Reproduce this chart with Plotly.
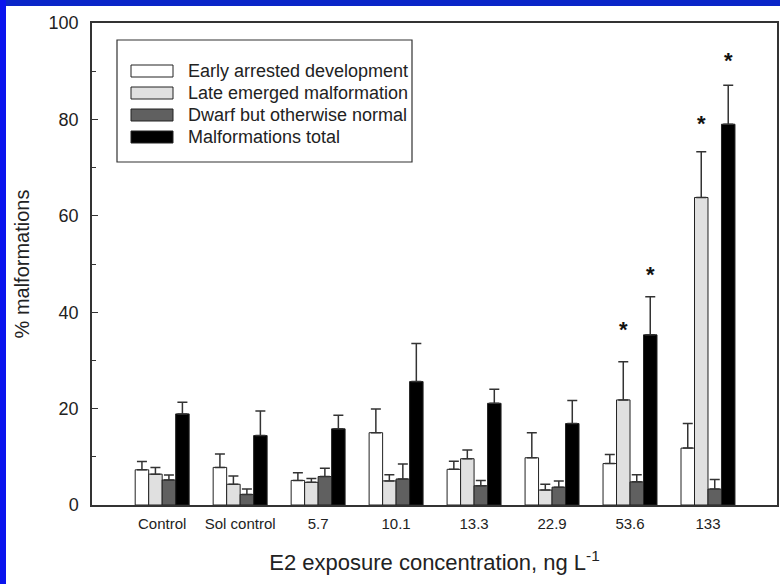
import plotly.graph_objects as go

# ---------------- data ----------------
categories = ["Control", "Sol control", "5.7", "10.1", "13.3", "22.9", "53.6", "133"]

early = [7.3, 7.8, 5.1, 15.0, 7.4, 9.8, 8.6, 11.8]
early_err = [1.7, 2.8, 1.6, 4.9, 1.7, 5.2, 1.9, 5.1]

late = [6.4, 4.3, 4.7, 5.0, 9.6, 3.1, 21.8, 63.8]
late_err = [1.4, 1.7, 0.8, 1.3, 1.8, 1.2, 7.9, 9.5]

dwarf = [5.2, 2.2, 5.9, 5.4, 4.0, 3.7, 4.8, 3.3]
dwarf_err = [1.0, 1.1, 1.7, 3.1, 1.1, 1.3, 1.5, 2.0]

total = [18.9, 14.4, 15.8, 25.6, 21.1, 16.9, 35.3, 79.0]
total_err = [2.4, 5.1, 2.8, 7.9, 2.9, 4.8, 7.9, 8.1]

series_names = ["Early arrested development", "Late emerged malformation",
                "Dwarf but otherwise normal", "Malformations total"]

# significance stars: category index, series index, y value
star_cat = [6, 6, 7, 7]
star_series = [1, 3, 1, 3]
star_y = [37.4, 48.9, 80.2, 93.3]

# ---------------- layout geometry ----------------
W, H = 780, 584
L, R, T, B = 92, 777, 23, 505
FONT = "Liberation Sans, Arial, sans-serif"
colors = ["#ffffff", "#e0e0e0", "#606060", "#000000"]
BARGAP = 0.308
nser = 4
bw = (1 - BARGAP) / nser


def px2x(px):
    return (px - L) / (R - L)


def py2y(py):
    return (B - py) / (B - T)


x_idx = list(range(len(categories)))
values = [early, late, dwarf, total]
errors = [early_err, late_err, dwarf_err, total_err]

fig = go.Figure()
for i in range(nser):
    fig.add_trace(go.Bar(
        x=x_idx, y=values[i], name=series_names[i],
        marker=dict(color=colors[i], line=dict(color="#222222", width=1)),
        error_y=dict(type="data", array=errors[i], arrayminus=[0] * len(categories),
                     symmetric=False, color="#333333", thickness=1.5, width=5),
        showlegend=False,
    ))

annotations = []
for c, s, yv in zip(star_cat, star_series, star_y):
    annotations.append(dict(
        x=c + (s - (nser - 1) / 2) * bw, y=yv, xref="x", yref="y",
        text="<b>*</b>", showarrow=False, yshift=-5,
        font=dict(family=FONT, size=22, color="#111111"),
    ))

shapes = []
# blue frame strips
shapes.append(dict(type="rect", xref="paper", yref="paper",
                   x0=px2x(0), x1=px2x(W), y0=py2y(6), y1=py2y(0),
                   fillcolor="#0a26c8", line=dict(width=0), layer="below"))
shapes.append(dict(type="rect", xref="paper", yref="paper",
                   x0=px2x(0), x1=px2x(6), y0=py2y(H), y1=py2y(0),
                   fillcolor="#0a14ee", line=dict(width=0), layer="below"))

# legend box
shapes.append(dict(type="rect", xref="paper", yref="paper",
                   x0=px2x(117), x1=px2x(412), y0=py2y(162), y1=py2y(40),
                   fillcolor="white", line=dict(color="#333333", width=1.2)))
centers = [71, 93, 115, 137]
for i in range(nser):
    cy = centers[i]
    shapes.append(dict(type="rect", xref="paper", yref="paper",
                       x0=px2x(131), x1=px2x(173), y0=py2y(cy + 6), y1=py2y(cy - 6),
                       fillcolor=colors[i], line=dict(color="#222222", width=1)))
    annotations.append(dict(x=px2x(186), y=py2y(cy), xref="paper", yref="paper",
                            text=series_names[i], showarrow=False,
                            xanchor="left", yanchor="middle",
                            font=dict(family=FONT, size=18, color="#222222")))

fig.update_layout(
    width=W, height=H,
    margin=dict(l=L, r=W - R, t=T, b=H - B, pad=0),
    paper_bgcolor="white", plot_bgcolor="white",
    barmode="group", bargap=BARGAP, bargroupgap=0,
    font=dict(family=FONT, color="#222222"),
    shapes=shapes, annotations=annotations,
    xaxis=dict(
        range=[-0.9, 7.885], tickmode="array", tickvals=x_idx, ticktext=categories,
        showline=True, linecolor="#333333", linewidth=1.5, mirror=True,
        ticks="", showgrid=False, zeroline=False,
        tickfont=dict(family=FONT, size=15, color="#222222"),
        ticklabelstandoff=4,
        title=dict(text="E2 exposure concentration, ng L<sup>-1</sup>",
                   font=dict(family=FONT, size=22, color="#222222"), standoff=24),
        automargin=False,
    ),
    yaxis=dict(
        range=[0, 100], tickmode="linear", tick0=0, dtick=20,
        ticks="inside", ticklen=6, tickcolor="#333333", tickwidth=1,
        minor=dict(dtick=10, ticks="inside", ticklen=4, tickcolor="#333333", showgrid=False),
        showline=True, linecolor="#333333", linewidth=1.5, mirror=True,
        showgrid=False, zeroline=False,
        tickfont=dict(family=FONT, size=18, color="#222222"),
        ticklabelstandoff=8,
        title=dict(text="% malformations",
                   font=dict(family=FONT, size=20, color="#222222"), standoff=14),
        automargin=False,
    ),
)

fig.write_html("out.html")
